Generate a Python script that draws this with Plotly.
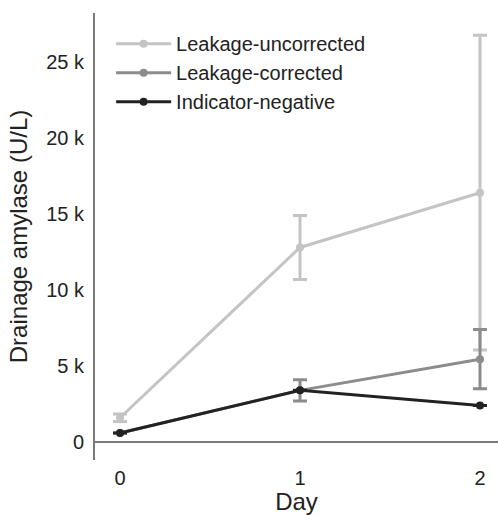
import plotly.graph_objects as go

days = [0, 1, 2]
series_names = ["Leakage-uncorrected", "Leakage-corrected", "Indicator-negative"]
uncorrected = [1600, 12800, 16400]
uncorrected_err = [250, 2100, 10350]
corrected = [600, 3400, 5450]
corrected_err = [0, 700, 1950]
indicator_neg = [600, 3400, 2400]
indicator_err = [0, 0, 0]
colors = ["#c4c4c4", "#8c8c8c", "#222222"]

y_tickvals = [0, 5000, 10000, 15000, 20000, 25000]
y_ticktext = ["0", "5 k", "10 k", "15 k", "20 k", "25 k"]

FONT = "Liberation Sans, Arial, Helvetica, sans-serif"

fig = go.Figure()
for name, vals, errs, col in zip(series_names,
                                 [uncorrected, corrected, indicator_neg],
                                 [uncorrected_err, corrected_err, indicator_err],
                                 colors):
    fig.add_trace(go.Scatter(
        x=days, y=vals, name=name, mode="lines+markers",
        line=dict(color=col, width=3),
        marker=dict(color=col, size=8),
        error_y=dict(type="data", array=errs, visible=True,
                     color=col, thickness=3, width=7),
    ))

fig.update_layout(
    width=498, height=515,
    margin=dict(l=95, r=0, t=13, b=55, autoexpand=False),
    paper_bgcolor="white", plot_bgcolor="white",
    font=dict(family=FONT, size=20, color="#222222"),
    showlegend=True,
    legend=dict(x=0.04, y=0.975, xanchor="left", yanchor="top",
                bgcolor="rgba(0,0,0,0)", font=dict(size=20, color="#222222"),
                itemwidth=55, tracegroupgap=0),
    xaxis=dict(range=[-0.139, 2.1], tickvals=days, ticktext=[str(d) for d in days],
               showline=False, showgrid=False, zeroline=False, ticks="",
               automargin=False, ticklabelstandoff=4,
               title=dict(text="Day", standoff=13), tickfont=dict(size=20)),
    yaxis=dict(range=[-1180, 28220], tickvals=y_tickvals, ticktext=y_ticktext,
               showline=True, linecolor="#7a7a7a", linewidth=2,
               showgrid=False, zeroline=True, zerolinecolor="#7a7a7a", zerolinewidth=2,
               ticks="", automargin=False, ticklabelstandoff=5,
               title=dict(text="Drainage amylase (U/L)", standoff=12), tickfont=dict(size=20)),
)

fig.write_html("out.html", config={"displayModeBar": False},
               post_script="document.body.style.margin='0px';")
